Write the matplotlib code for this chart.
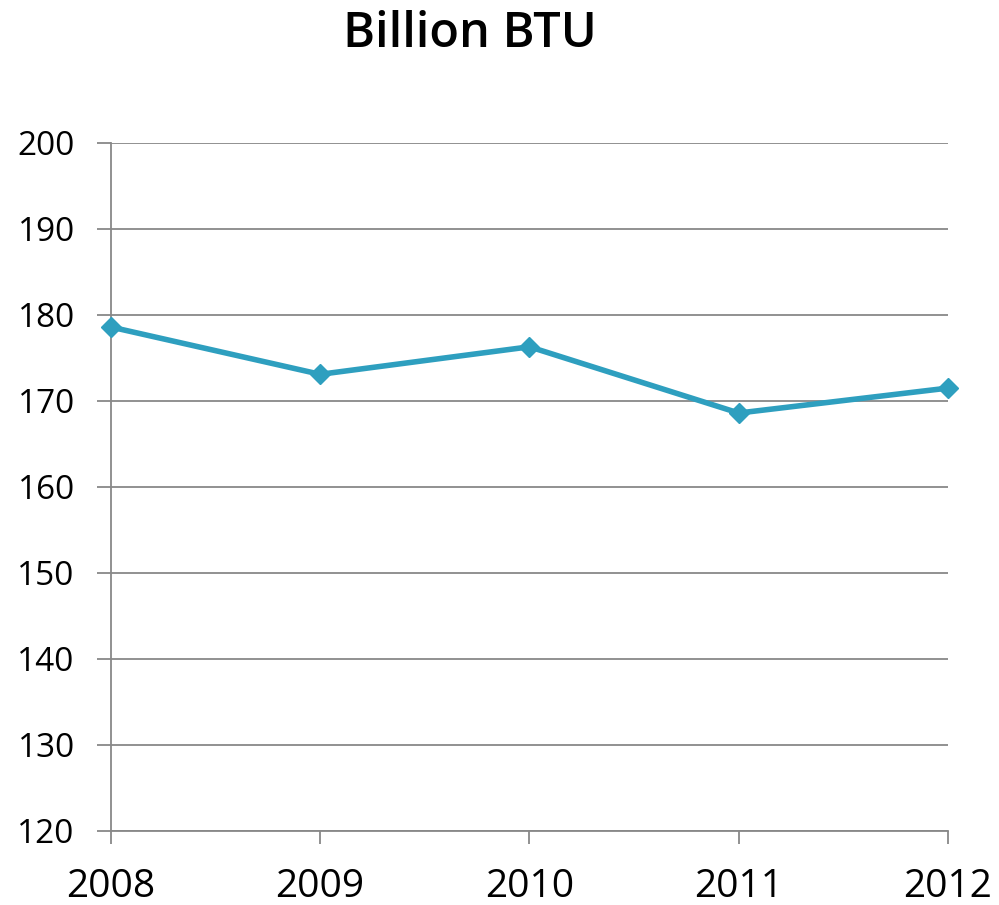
import matplotlib.pyplot as plt

years = ["2008", "2009", "2010", "2011", "2012"]
btu = [178.6, 173.1, 176.3, 168.6, 171.5]
yticks = [120, 130, 140, 150, 160, 170, 180, 190, 200]

plt.rcParams['font.family'] = ['Open Sans', 'DejaVu Sans']

fig = plt.figure(figsize=(9.99, 9.05), dpi=100)
ax = fig.add_axes([0.111, 0.0818, 0.838, 0.7602])

x = list(range(len(years)))
ax.plot(x, btu, color='#2E9FBF', linewidth=4, marker='D', markersize=10,
        zorder=3, clip_on=False)

ax.set_xlim(0, len(years) - 1)
ax.set_ylim(120, 200)
ax.set_yticks(yticks)
ax.set_xticks(x)
ax.set_xticklabels(years, fontsize=28)
ax.tick_params(axis='y', labelsize=24, length=10, width=1.3, color='#888888', pad=16)
ax.tick_params(axis='x', length=9, width=1.3, color='#888888', pad=18)

ax.grid(axis='y', color='#888888', linewidth=1.3)
ax.set_axisbelow(True)
for s in ['top', 'right']:
    ax.spines[s].set_visible(False)
for s in ['left', 'bottom']:
    ax.spines[s].set_color('#888888')
    ax.spines[s].set_linewidth(1.3)

fig.text(0.47, 0.962, "Billion BTU", fontsize=35, fontweight='semibold', ha='center', va='center')

fig.savefig("out.png", dpi=100)
